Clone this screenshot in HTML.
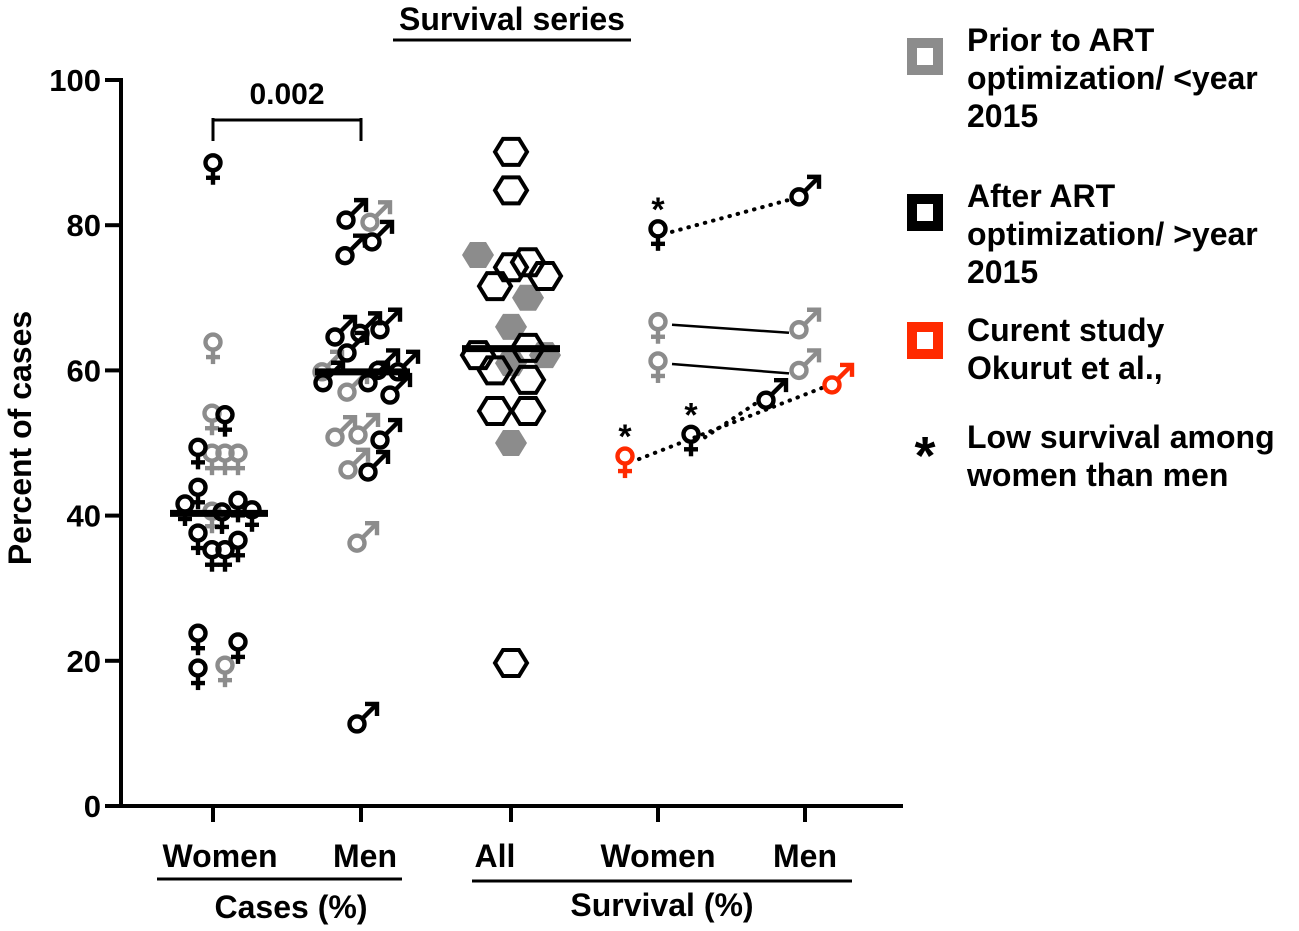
<!DOCTYPE html>
<html><head><meta charset="utf-8"><style>
html,body{margin:0;padding:0;background:#fff;}
svg{display:block;font-family:"Liberation Sans",Arial,sans-serif;font-weight:bold;}
</style></head><body>
<svg id="chart" width="1299" height="931" viewBox="0 0 1299 931">
<g id="axes"></g>
<g id="marks"></g>
<g id="legend">
  <rect x="912" y="43" width="26" height="27" fill="none" stroke="#8c8c8c" stroke-width="10"/>
  <text x="967" y="51" font-size="32"><tspan x="967">Prior to ART</tspan><tspan x="967" dy="38">optimization/ &lt;year</tspan><tspan x="967" dy="38">2015</tspan></text>
  <rect x="912" y="199" width="26" height="27" fill="none" stroke="#000" stroke-width="10"/>
  <text x="967" y="207" font-size="32"><tspan x="967">After ART</tspan><tspan x="967" dy="38">optimization/ &gt;year</tspan><tspan x="967" dy="38">2015</tspan></text>
  <rect x="912" y="327" width="26" height="27" fill="none" stroke="#ff2a00" stroke-width="10"/>
  <text x="967" y="341" font-size="32"><tspan x="967">Curent study</tspan><tspan x="967" dy="38">Okurut et al.,</tspan></text>
  <text x="925" y="474" font-size="54" text-anchor="middle">*</text>
  <text x="967" y="448" font-size="32"><tspan x="967">Low survival among</tspan><tspan x="967" dy="38">women than men</tspan></text>
</g>
</svg>
<script>
// ---- data ----
var yTicks = [0, 20, 40, 60, 80, 100];
var categories = ["Women", "Men", "All", "Women", "Men"];
// Cases women
var casesWomenVals = [88.6, 63.9, 54.1, 53.9, 49.4, 48.6, 48.6, 48.6, 43.9, 41.6, 40.6, 40.5, 42.1, 40.8, 37.6, 35.3, 35.3, 36.6, 23.8, 19.0, 19.4, 22.6];
var casesWomenJit  = [0, 0, -1, 12, -15, -1, 12, 25, -15, -28, -1, 9, 25, 39, -15, -1, 12, 25, -15, -15, 12, 25];
var casesWomenGrp  = ["a","p","p","a","a","p","p","p","a","a","p","a","a","a","a","a","a","a","a","a","p","a"];
var casesWomenMedian = 40.3;
// Cases men
var casesMenVals = [80.7, 80.4, 77.7, 75.8, 64.6, 65.1, 65.6, 62.4, 59.8, 58.3, 57.0, 58.3, 56.6, 60.0, 59.8, 50.8, 51.1, 50.4, 46.3, 46.0, 36.2, 11.3];
var casesMenJit  = [-15, 9, 11, -16, -26, -1, 19, -14, -39, -38, -14, 7, 29, 17, 37, -26, -3, 19, -13, 7, -4, -4];
var casesMenGrp  = ["a","p","a","a","a","a","a","a","p","a","p","a","a","a","a","p","p","a","p","a","p","a"];
var casesMenMedian = 59.8;
// Survival all
var allVals = [90.1, 84.8, 75.9, 74.2, 74.9, 73.0, 71.6, 70.0, 66.0, 63.1, 62.1, 62.1, 61.0, 60.0, 58.7, 54.4, 54.4, 50.0, 19.7];
var allJit  = [0, 0, -33, 0, 17, 34, -16, 17, 0, 17, -33, 34, 0, -16, 17, -16, 17, 0, 0];
var allGrp  = ["a","a","p","a","a","a","a","p","p","a","a","p","p","a","a","a","a","p","a"];
var allMedian = 63.0;
// Survival paired women -> men
var pairWomen = [79.5, 66.7, 61.3, 51.2, 48.2];
var pairMen   = [83.9, 65.6, 60.0, 55.9, 58.0];
var pairWomenJit = [0, 0, 0, 33, -33];
var pairMenJit   = [-6, -6, -6, -39, 27];
var pairGrp  = ["a","p","p","a","c"];
var pairLine = ["dot","solid","solid","dot","dot"];
var pairStar = [true, false, false, true, true];

// ---- scales ----
var catX = [213, 361, 511, 658, 805];
function yS(v){ return 806 - v * 7.26; }
var colors = {a:"#000", p:"#8c8c8c", c:"#ff2a00"};
var NS = "http://www.w3.org/2000/svg";
function mk(tag, attrs, parent){
  var e = document.createElementNS(NS, tag);
  for (var k in attrs) e.setAttribute(k, attrs[k]);
  parent.appendChild(e); return e;
}
var axes = document.getElementById("axes");
var marks = document.getElementById("marks");

// axes
var yl = mk("line", {x1:121,y1:78,x2:121,y2:808,stroke:"#000","stroke-width":4}, axes);


var xl = mk("line", {x1:119,y1:806,x2:903,y2:806,stroke:"#000","stroke-width":4}, axes);


yTicks.forEach(function(t){
  var y = yS(t);
  var tk = mk("line", {x1:105,y1:y,x2:121,y2:y,stroke:"#000","stroke-width":4}, axes);
  
  
  var tx = mk("text", {x:101,y:y+11,"font-size":31,"text-anchor":"end"}, axes);
  tx.textContent = t;
  
  
});
var labelX = [220, 365, 495, 658, 805];
categories.forEach(function(c, i){
  var tk = mk("line", {x1:catX[i],y1:806,x2:catX[i],y2:822,stroke:"#000","stroke-width":4}, axes);
  
  
  var tx = mk("text", {x:labelX[i],y:867,"font-size":32,"text-anchor":"middle"}, axes);
  tx.textContent = c;
  
  
});
function addLine(x1,y1,x2,y2,w,name,parent,col,dash){
  var l = mk("line",{x1:x1,y1:y1,x2:x2,y2:y2,stroke:col||"#000","stroke-width":w}, parent);
  if (dash) { l.setAttribute("stroke-dasharray", dash); l.setAttribute("stroke-linecap","round"); }
  
  
  return l;
}
function addText(x,y,s,txt,name,anchor,rot){
  var t = mk("text",{x:x,y:y,"font-size":s,"text-anchor":anchor||"middle"}, axes);
  if (rot) t.setAttribute("transform", rot);
  t.textContent = txt;
  
  
}
addLine(157,879,402,879,3,"cases-group-underline",axes);
addLine(472,881,852,881,3,"survival-group-underline",axes);
addText(291,918,32,"Cases (%)","cases-group-label");
addText(662,916,32,"Survival (%)","survival-group-label");
addText(512,30,32,"Survival series","chart-title");
addLine(393,40,631,40,3,"title-underline",axes);
addText(31,438,32,"Percent of cases","y-axis-title","middle","rotate(-90 31 438)");
// significance bracket
addLine(213,120,361,120,3,"sig-bracket-top",axes);
addLine(213,118,213,141,3,"sig-bracket-left",axes);
addLine(361,118,361,141,3,"sig-bracket-right",axes);
addText(287,104,30,"0.002","p-value-label");

// symbols
var SW = 4.4;
function female(cx, v, col, name){
  var g = mk("g", {}, marks);
  
  
  var cy = yS(v);
  mk("circle",{cx:cx,cy:cy,r:7.5,fill:"none",stroke:col,"stroke-width":SW}, g);
  mk("line",{x1:cx,y1:cy+8,x2:cx,y2:cy+22,stroke:col,"stroke-width":SW}, g);
  mk("line",{x1:cx-7,y1:cy+15,x2:cx+7,y2:cy+15,stroke:col,"stroke-width":SW}, g);
}
function male(cx, v, col, name){
  var g = mk("g", {}, marks);
  
  
  var cy = yS(v);
  mk("circle",{cx:cx,cy:cy,r:7.5,fill:"none",stroke:col,"stroke-width":SW}, g);
  mk("line",{x1:cx+5,y1:cy-5,x2:cx+20,y2:cy-20,stroke:col,"stroke-width":SW}, g);
  mk("polyline",{points:(cx+8)+","+(cy-20)+" "+(cx+20)+","+(cy-20)+" "+(cx+20)+","+(cy-8),fill:"none",stroke:col,"stroke-width":SW}, g);
}
function hex(cx, v, grp, name){
  var cy = yS(v), r = 16, h = 13;
  var pts = [[cx-r,cy],[cx-r/2,cy-h],[cx+r/2,cy-h],[cx+r,cy],[cx+r/2,cy+h],[cx-r/2,cy+h]].map(function(p){return p.join(",");}).join(" ");
  var p;
  if (grp === "p") p = mk("polygon",{points:pts,fill:"#8c8c8c",stroke:"none"}, marks);
  else p = mk("polygon",{points:pts,fill:"none",stroke:"#000","stroke-width":4}, marks);
  
  
}
// draw grey first then black
["p","a"].forEach(function(gr){
  casesWomenVals.forEach(function(v,i){ if (casesWomenGrp[i]===gr) female(catX[0]+casesWomenJit[i], v, colors[gr], "cases-women-point"); });
  casesMenVals.forEach(function(v,i){ if (casesMenGrp[i]===gr) male(catX[1]+casesMenJit[i], v, colors[gr], "cases-men-point"); });
  allVals.forEach(function(v,i){ if (allGrp[i]===gr) hex(catX[2]+allJit[i], v, gr, "survival-all-point"); });
});
addLine(170,yS(casesWomenMedian),268,yS(casesWomenMedian),7,"cases-women-median",marks);
addLine(315,yS(casesMenMedian),410,yS(casesMenMedian),7,"cases-men-median",marks);
addLine(462,yS(allMedian),560,yS(allMedian),7,"survival-all-median",marks);

// paired survival
pairWomen.forEach(function(w,i){
  var x1 = catX[3]+pairWomenJit[i], x2 = catX[4]+pairMenJit[i];
  addLine(x1+14, yS(w)+3, x2-10, yS(pairMen[i])+3, pairLine[i]==="dot"?4:2.5, "pair-link", marks, "#000", pairLine[i]==="dot"?"0.5 8":null);
});
pairWomen.forEach(function(w,i){
  var col = colors[pairGrp[i]];
  female(catX[3]+pairWomenJit[i], w, col, "survival-women-point");
  male(catX[4]+pairMenJit[i], pairMen[i], col, "survival-men-point");
  if (pairStar[i]) {
    var t = mk("text",{x:catX[3]+pairWomenJit[i],y:yS(w)-8,"font-size":34,"text-anchor":"middle"}, marks);
    t.textContent = "*";
    
    
  }
});
</script>
</body></html>
